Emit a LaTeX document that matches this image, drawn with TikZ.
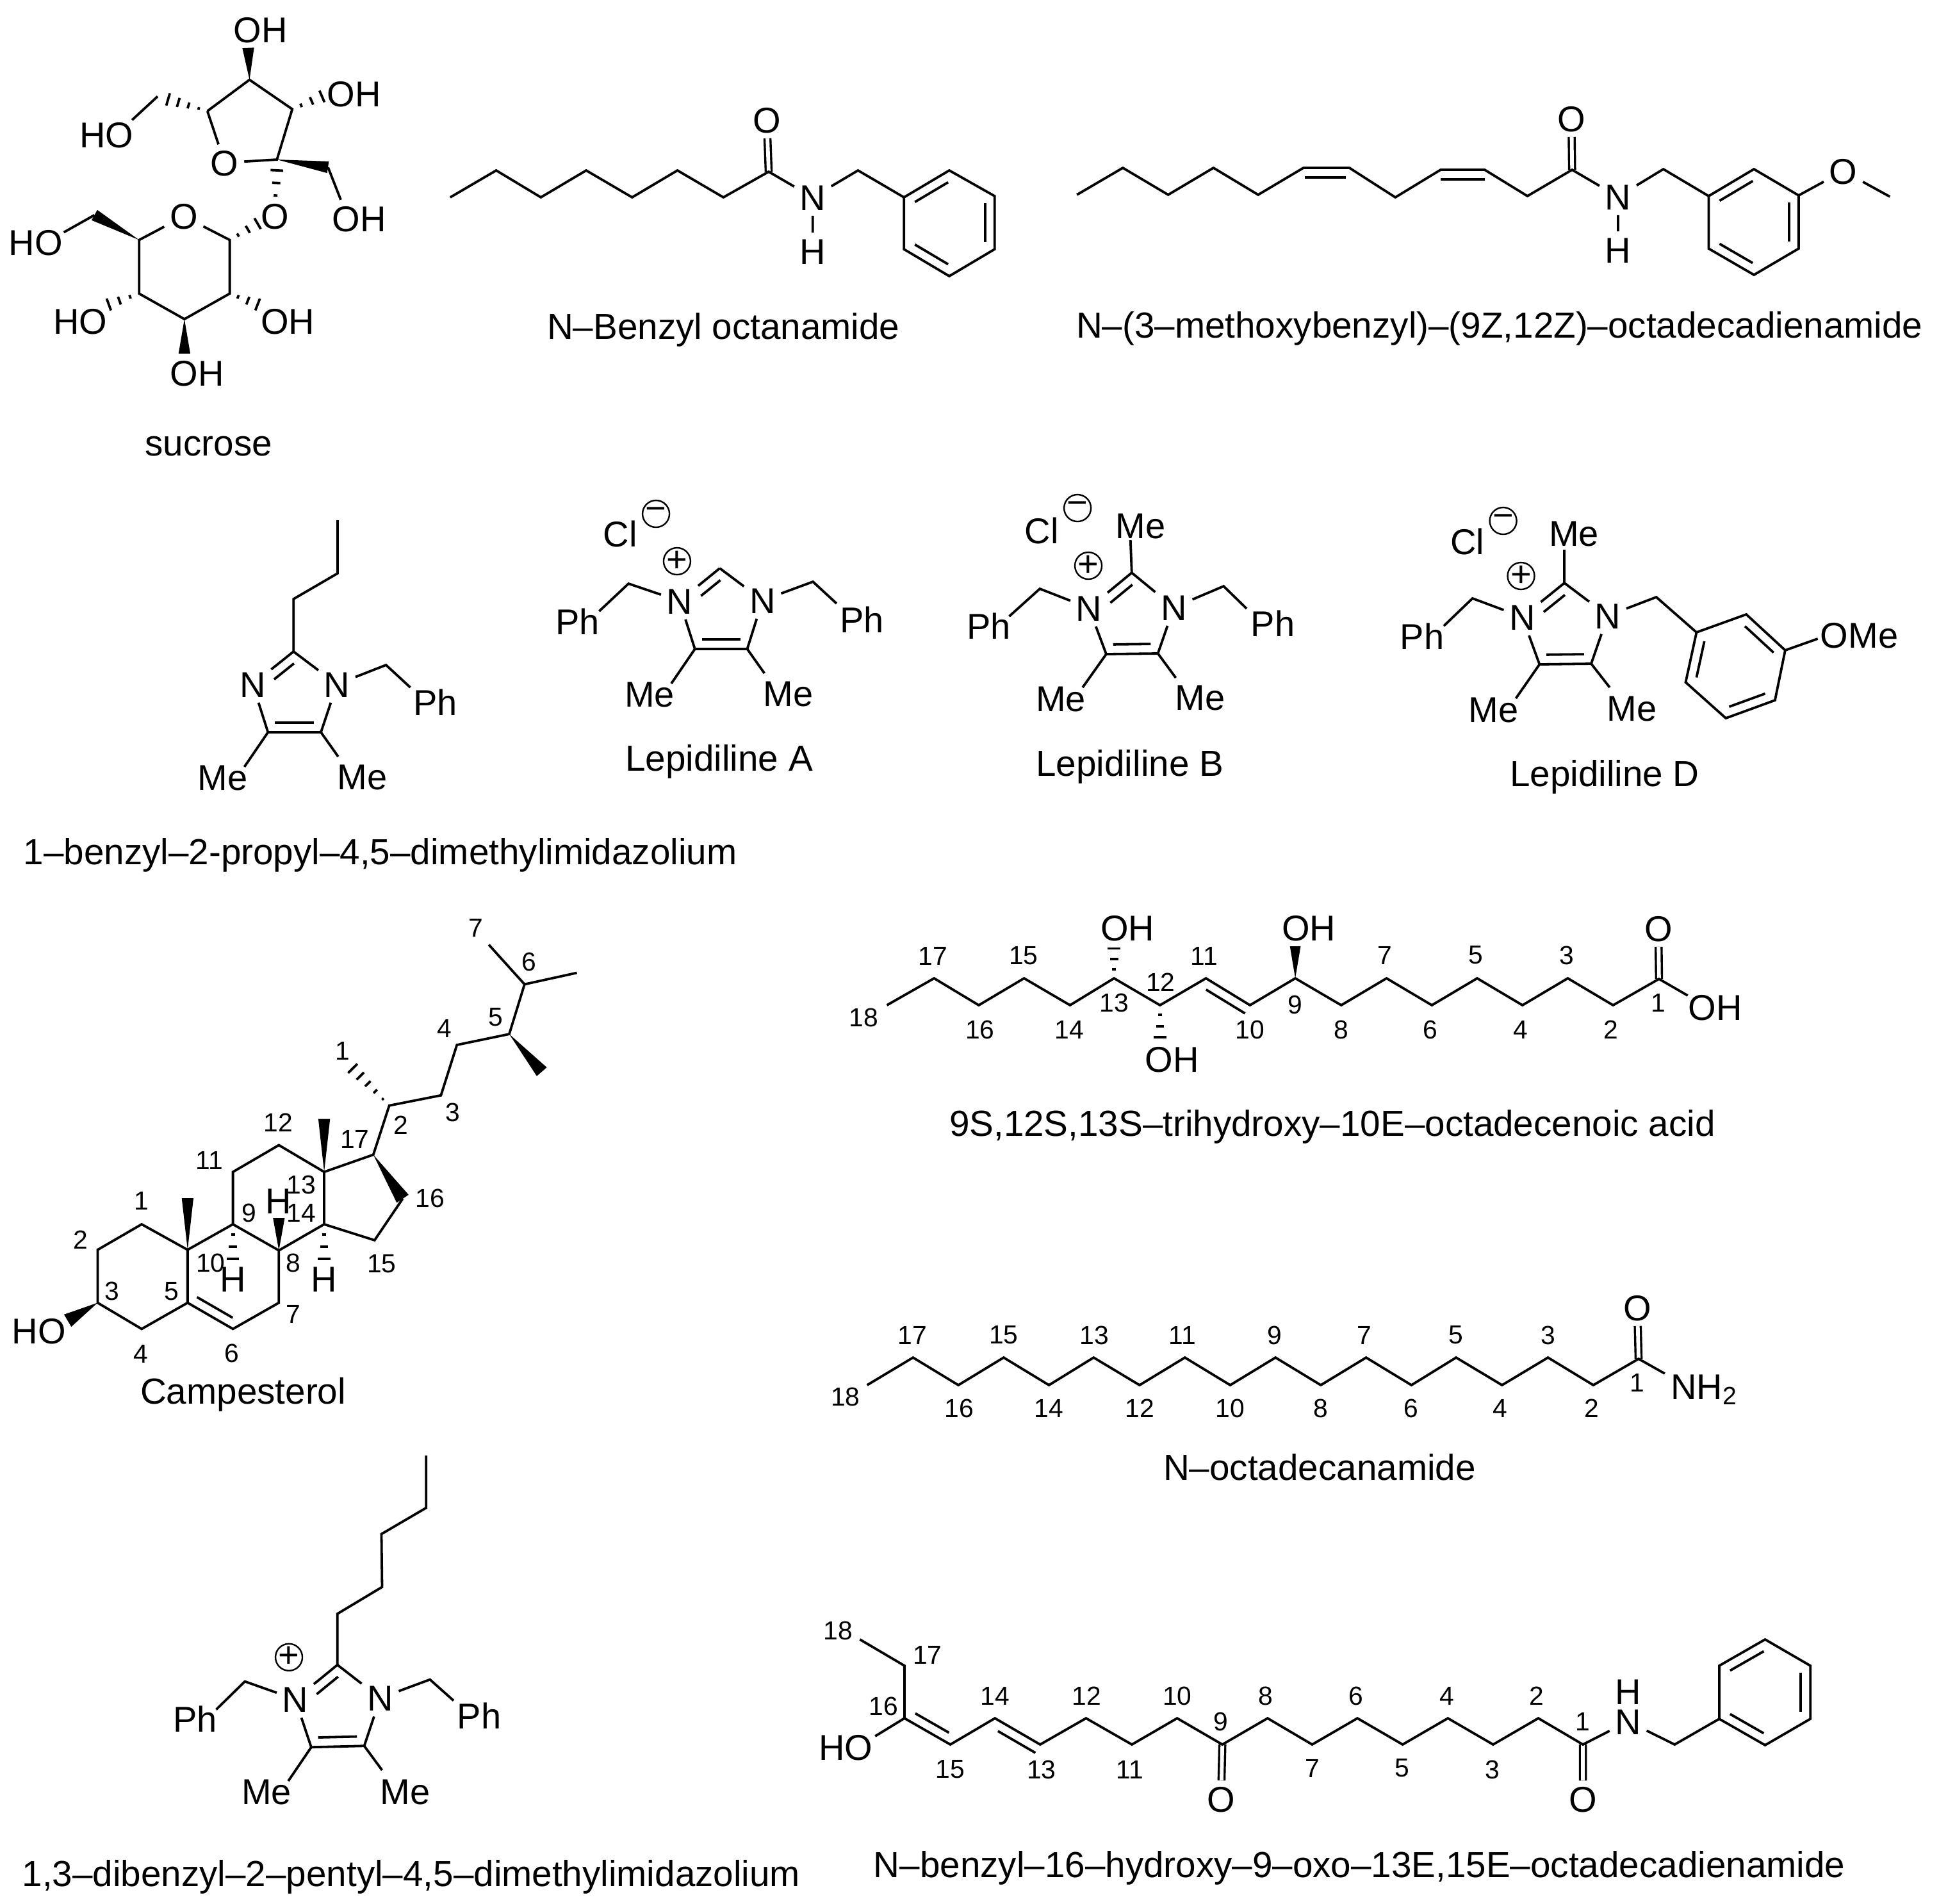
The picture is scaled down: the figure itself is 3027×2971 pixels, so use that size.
\documentclass[tikz,border=0pt]{standalone}
\usepackage{fontspec}
\setmainfont{Liberation Sans}
\usetikzlibrary{calc}

\tikzset{
    bond/.style={line width=0.95pt},
    dbl/.style={line width=0.85pt, double, double distance=1.45pt},
    hash/.style={line width=0.95pt},
    atom/.style={inner sep=2pt, font=\fontsize{14}{16}\selectfont, text height=10pt, text depth=0pt},
    numlabel/.style={inner sep=0pt, font=\fontsize{10.2}{12}\selectfont},
    caption/.style={inner sep=0pt, font=\fontsize{14.15}{16}\selectfont, text height=10.1pt, text depth=0pt},
    charge/.style={draw, circle, line width=0.6pt, minimum size=10.5pt, inner sep=0pt, font=\fontsize{14}{16}\selectfont}
}

\newcommand{\innerbond}[3][]{\draw[bond, shorten <=2.75pt, shorten >=2.75pt, #1] ($(#2)!3.75pt!90:(#3)$) -- ($(#3)!3.75pt!-90:(#2)$);}
\newcommand{\wedgebond}[3][2.3pt]{\fill (#2) -- ($(#3)!#1!90:(#2)$) -- ($(#3)!#1!-90:(#2)$) -- cycle;}
\newcommand{\hashbond}[3][3]{\foreach \hk in {1,...,#1} {
    \pgfmathsetmacro{\hf}{(\hk-0.15)/#1}
    \pgfmathsetmacro{\hw}{2.6*\hf}
    \draw[hash] ($(#2)!\hf!(#3)!\hw pt!90:(#3)$) -- ($(#2)!\hf!(#3)!\hw pt!-90:(#3)$);
}}

\begin{document}
\begin{tikzpicture}[x=0.25pt, y=-0.25pt]
    \useasboundingbox (0, 0) rectangle (3027, 2971);

    \begin{scope}[xscale=0.9962, yscale=0.9962]
    \foreach \n/\x/\y in {sA/391/125, sB/325/174, sC/458/171, sD/434/250, sE/514/262, sF/534/313,
        sG/247/151, sH/207/188, sI/261/155, sJ/507/150, sK/389/75, sL/360/376, sM/218/376, sN/218/460,
        sP/360/460, sQ/289/500, sR/148/337, sT/100/364, sU/168/478, sV/406/478, sW/406/349,
        sX/289/554, sYa/431/323, sYb/434/264}
        \coordinate (\n) at (\x, \y);
    \node[atom] (sO1) at (352, 255) {O};
    \node[atom] (sO2) at (288, 339) {O};
    \node[atom] (sO3) at (431, 339) {O};
    \node[atom] (sOH1) at (408, 47) {OH};
    \node[atom] (sOH2) at (167, 211) {HO};
    \node[atom] (sOH3) at (555, 147) {OH};
    \node[atom] (sOH4) at (563, 343) {OH};
    \node[atom] (sOH5) at (56, 380) {HO};
    \node[atom] (sOH6) at (126, 503) {HO};
    \node[atom] (sOH7) at (451, 503) {OH};
    \node[atom] (sOH8) at (309, 585) {OH};
    \draw[bond] (sB) -- (sA) -- (sC) -- (sD) -- (sO1) -- (sB);
    \draw[bond] (sO2) -- (sL) -- (sP) -- (sQ) -- (sN) -- (sM) -- (sO2);
    \draw[bond] (sG) -- (sH);
    \draw[bond] (sE) -- (sF);
    \draw[bond] (sR) -- (sT);
    \wedgebond{sA}{sK}
    \wedgebond{sD}{sE}
    \wedgebond{sM}{sR}
    \wedgebond{sQ}{sX}
    \hashbond[4]{sB}{sI}
    \hashbond{sC}{sJ}
    \hashbond{sYa}{sYb}
    \hashbond{sL}{sW}
    \hashbond{sN}{sU}
    \hashbond{sP}{sV}
    \node[caption] (sCap) at (327, 694) {sucrose};
    \end{scope}

    \begin{scope}[xshift=0.646pt, xscale=0.9962]
    \foreach \n/\x/\y in {bA/703/308, bB/775/266, bC/845/308, bD/916/266, bE/988/308, bF/1059/266,
        bG/1131/308, bH/1202/268, bI/1342/266, bRa/1414/308, bRb/1485/266, bRc/1556/306,
        bRd/1556/389, bRe/1485/431, bRf/1414/389}
        \coordinate (\n) at (\x, \y);
    \node[atom] (bO) at (1199, 187) {O};
    \node[atom] (bN) at (1271, 308) {N};
    \node[atom] (bNH) at (1271, 392) {H};
    \draw[dbl] (bH) -- (bO);
    \draw[bond] (bA) -- (bB) -- (bC) -- (bD) -- (bE) -- (bF) -- (bG) -- (bH) -- (bN) -- (bI) -- (bRa);
    \draw[bond] (bN) -- (bNH);
    \draw[bond] (bRa) -- (bRb) -- (bRc) -- (bRd) -- (bRe) -- (bRf) -- cycle;
    \innerbond{bRb}{bRa}
    \innerbond{bRf}{bRe}
    \innerbond{bRd}{bRc}
    \node[caption] (bCap) at (1131, 509) {N–Benzyl octanamide};

    \foreach \n/\x/\y in {mA/1685/304, mB/1757/262, mC/1828/304, mD/1899/262, mE/1969/304, mF/2040/262,
        mG/2112/262, mH/2184/308, mI/2255/265, mJ/2324/265, mK/2391/306, mL/2461/265, mM/2604/264,
        mRa/2675/306, mRb/2746/264, mRc/2816/305, mRd/2816/388, mRe/2746/429, mRf/2675/388, mQ/2959/307}
        \coordinate (\n) at (\x, \y);
    \node[atom] (mO) at (2460, 185) {O};
    \node[atom] (mN) at (2533, 307) {N};
    \node[atom] (mNH) at (2533, 390) {H};
    \node[atom] (mO2) at (2886, 267) {O};
    \draw[dbl] (mL) -- (mO);
    \draw[bond] (mA) -- (mB) -- (mC) -- (mD) -- (mE) -- (mF) -- (mG) -- (mH) -- (mI) -- (mJ) -- (mK) -- (mL) -- (mN) -- (mM) -- (mRa);
    \draw[bond] (mN) -- (mNH);
    \draw[bond] (mRa) -- (mRb) -- (mRc) -- (mRd) -- (mRe) -- (mRf) -- cycle;
    \draw[bond] (mRc) -- (mO2) -- (mQ);
    \innerbond[shorten <=1.5pt, shorten >=0.5pt]{mG}{mF}
    \innerbond[shorten <=0pt, shorten >=0pt]{mJ}{mI}
    \innerbond{mRb}{mRa}
    \innerbond{mRf}{mRe}
    \innerbond{mRd}{mRc}
    \node[caption] (mCap) at (2347, 507) {N–(3–methoxybenzyl)–(9Z,12Z)–octadecadienamide};
    \end{scope}

    \begin{scope}[xshift=0.2375pt, xscale=0.9962]
    \foreach \n/\x/\y in {prA/528/812, prB/528/895, prC/459/935, prD/459/1017, prE/419/1143, prF/502/1143,
        prG/604/1038, prH/642/1073, prI/382/1197, prJ/529/1181}
        \coordinate (\n) at (\x, \y);
    \node[atom] (prN1) at (395, 1068) {N};
    \node[atom] (prN2) at (527, 1068) {N};
    \node[atom] (prPh) at (681, 1096) {Ph};
    \node[atom] (prMe1) at (348, 1213) {Me};
    \node[atom] (prMe2) at (567, 1212) {Me};
    \draw[bond] (prA) -- (prB) -- (prC) -- (prD);
    \draw[bond] (prD) -- (prN1) -- (prE) -- (prF) -- (prN2) -- (prD);
    \draw[bond] (prN2) -- (prG) -- (prH);
    \draw[bond] (prE) -- (prI);
    \draw[bond] (prF) -- (prJ);
    \innerbond[shorten >=7.75pt]{prD}{prN1}
    \innerbond{prE}{prF}
    \node[caption] (prCap) at (595, 1329) {1–benzyl–2-propyl–4,5–dimethylimidazolium};

    \foreach \n/\x/\y in {laD/1127/887, laE/1088/1013, laF/1170/1013, laG/984/911, laH/938/954,
        laI/1273/908, laJ/1310/942, laK/1051/1067, laL/1197/1051}
        \coordinate (\n) at (\x, \y);
    \node[atom] (laCl) at (971, 833) {Cl};
    \node[charge] (laM) at (1027, 802) {\makebox[0pt]{−}};
    \node[charge] (laP) at (1060, 876) {\makebox[0pt]{+}};
    \node[atom] (laN1) at (1064, 938) {N};
    \node[atom] (laN2) at (1194, 937) {N};
    \node[atom] (laPh1) at (904, 970) {Ph};
    \node[atom] (laPh2) at (1350, 967) {Ph};
    \node[atom] (laMe1) at (1017, 1083) {Me};
    \node[atom] (laMe2) at (1234, 1082) {Me};
    \draw[bond] (laD) -- (laN1) -- (laE) -- (laF) -- (laN2) -- (laD);
    \draw[bond] (laN1) -- (laG) -- (laH);
    \draw[bond] (laN2) -- (laI) -- (laJ);
    \draw[bond] (laE) -- (laK);
    \draw[bond] (laF) -- (laL);
    \innerbond[shorten >=7.75pt]{laD}{laN1}
    \innerbond{laE}{laF}
    \node[caption] (laCap) at (1126, 1183) {Lepidiline A};
    \end{scope}

    \begin{scope}[xshift=1.378pt, xscale=0.9962]
    \foreach \n/\x/\y in {lbC/1766/843, lbD/1768/894, lbE/1728/1021, lbF/1809/1020, lbG/1624/919, lbH/1576/962,
        lbI/1912/915, lbJ/1948/950, lbK/1691/1073, lbL/1837/1058}
        \coordinate (\n) at (\x, \y);
    \node[atom] (lbCl) at (1627, 828) {Cl};
    \node[charge] (lbM) at (1683, 793) {\makebox[0pt]{−}};
    \node[charge] (lbP) at (1700, 883) {\makebox[0pt]{+}};
    \node[atom] (lbMe0) at (1782, 820) {Me};
    \node[atom] (lbN1) at (1701, 949) {N};
    \node[atom] (lbN2) at (1834, 948) {N};
    \node[atom] (lbPh1) at (1544, 977) {Ph};
    \node[atom] (lbPh2) at (1989, 973) {Ph};
    \node[atom] (lbMe1) at (1657, 1090) {Me};
    \node[atom] (lbMe2) at (1875, 1088) {Me};
    \draw[bond] (lbC) -- (lbD);
    \draw[bond] (lbD) -- (lbN1) -- (lbE) -- (lbF) -- (lbN2) -- (lbD);
    \draw[bond] (lbN1) -- (lbG) -- (lbH);
    \draw[bond] (lbN2) -- (lbI) -- (lbJ);
    \draw[bond] (lbE) -- (lbK);
    \draw[bond] (lbF) -- (lbL);
    \innerbond[shorten >=7.75pt]{lbD}{lbN1}
    \innerbond{lbE}{lbF}
    \node[caption] (lbCap) at (1765, 1191) {Lepidiline B};

    \foreach \n/\x/\y in {ldC/2446/858, ldD/2446/910, ldE/2407/1037, ldF/2488/1036, ldG/2302/934, ldH/2257/977,
        ldI/2590/932, ldK/2370/1090, ldL/2517/1073, ldRa/2653/987, ldRb/2731/959, ldRc/2792/1015,
        ldRd/2776/1093, ldRe/2699/1121, ldRf/2636/1065, ldQ/2843/997}
        \coordinate (\n) at (\x, \y);
    \node[atom] (ldCl) at (2294, 845) {Cl};
    \node[charge] (ldM) at (2350, 813) {\makebox[0pt]{−}};
    \node[charge] (ldP) at (2378, 899) {\makebox[0pt]{+}};
    \node[atom] (ldMe0) at (2461, 832) {Me};
    \node[atom] (ldN1) at (2380, 963) {N};
    \node[atom] (ldN2) at (2514, 961) {N};
    \node[atom] (ldPh) at (2223, 993) {Ph};
    \node[atom] (ldMe1) at (2335, 1107) {Me};
    \node[atom] (ldMe2) at (2552, 1105) {Me};
    \node[atom] (ldOMe) at (2908, 991) {OMe};
    \draw[bond] (ldC) -- (ldD);
    \draw[bond] (ldD) -- (ldN1) -- (ldE) -- (ldF) -- (ldN2) -- (ldD);
    \draw[bond] (ldN1) -- (ldG) -- (ldH);
    \draw[bond] (ldN2) -- (ldI) -- (ldRa);
    \draw[bond] (ldE) -- (ldK);
    \draw[bond] (ldF) -- (ldL);
    \draw[bond] (ldRa) -- (ldRb) -- (ldRc) -- (ldRd) -- (ldRe) -- (ldRf) -- cycle;
    \draw[bond] (ldRc) -- (ldQ);
    \innerbond[shorten >=7.75pt]{ldD}{ldN1}
    \innerbond{ldE}{ldF}
    \innerbond{ldRc}{ldRb}
    \innerbond{ldRe}{ldRd}
    \innerbond{ldRa}{ldRf}
    \node[caption] (ldCap) at (2509, 1207) {Lepidiline D};
    \end{scope}

    \begin{scope}[yshift=-1.311pt, xscale=0.9962, yscale=0.9962]
    \foreach \n/\x/\y in {caC1/222/1913, caC2/153/1953, caC3/153/2036, caC4/222/2077, caC5/294/2036,
        caC6/365/2077, caC7/437/2036, caC8/437/1954, caC9/365/1913, caC10/294/1953, caC11/365/1831,
        caC12/437/1789, caC13/508/1831, caC14/508/1913, caC15/587/1938, caC16/631/1873, caC17/585/1804,
        caS2/610/1727, caS3/691/1711, caS4/716/1632, caS5/798/1615, caS6/822/1537, caS7/766/1475,
        caS8/904/1519, caS9/849/1674, caS1/551/1667, caW1/508/1748, caW2/294/1872, caW3/437/1903,
        caW4/106/2064, caHa/365/1970, caHb/508/1970}
        \coordinate (\n) at (\x, \y);
    \draw[bond] (caC1) -- (caC2) -- (caC3) -- (caC4) -- (caC5) -- (caC10) -- cycle;
    \draw[bond] (caC5) -- (caC6) -- (caC7) -- (caC8) -- (caC9) -- (caC10);
    \draw[bond] (caC9) -- (caC11) -- (caC12) -- (caC13) -- (caC14) -- (caC8);
    \draw[bond] (caC14) -- (caC15) -- (caC16);
    \draw[bond] (caC13) -- (caC17) -- (caS2) -- (caS3) -- (caS4) -- (caS5) -- (caS6) -- (caS7);
    \draw[bond] (caS6) -- (caS8);
    \innerbond[shorten <=2.1pt, shorten >=2.25pt]{caC5}{caC6}
    \wedgebond{caC13}{caW1}
    \wedgebond{caC10}{caW2}
    \wedgebond{caC8}{caW3}
    \wedgebond[2.8pt]{caC17}{caC16}
    \wedgebond[2.6pt]{caS5}{caS9}
    \wedgebond[2.8pt]{caC3}{caW4}
    \hashbond[5]{caS2}{caS1}
    \hashbond{caC9}{caHa}
    \hashbond{caC14}{caHb}
    \node[atom] (caHO) at (61, 2080) {HO};
    \node[atom] (caH1) at (436, 1876) {H};
    \node[atom] (caH2) at (365, 1999) {H};
    \node[atom] (caH3) at (508, 1999) {H};
    \foreach \n/\x/\y/\t in {caL1/222/1876/1, caL2/126/1937/2, caL3/176/2018/3, caL4/221/2116/4, caL5/269/2018/5,
        caL6/363/2115/6, caL7/460/2054/7, caL8/460/1974/8, caL9/390/1895/9, caL10/330/1974/10, caL11/328/1813/11,
        caL12/436/1754/12, caL13/472/1851/13, caL14/472/1895/14, caL15/598/1975/15, caL16/674/1872/16,
        caL17/556/1780/17, caT1/537/1641/1, caT2/628/1758/2, caT3/710/1738/3, caT4/696/1606/4, caT5/777/1588/5,
        caT6/829/1502/6, caT7/746/1449/7}
        \node[numlabel] (\n) at (\x, \y) {\t};
    \node[caption] (caCap) at (381, 2174) {Campesterol};
    \end{scope}

    \begin{scope}[xshift=1.197pt, xscale=0.9962]
    \foreach \n/\x in {2/2523, 4/2381, 6/2239, 8/2097, 10/1954, 12/1813, 14/1672, 16/1529}
        \coordinate (tr\n) at (\x, 1569);
    \foreach \n/\x in {3/2452, 5/2310, 7/2168, 9/2025, 11/1885, 13/1741, 15/1600, 17/1459}
        \coordinate (tr\n) at (\x, 1527);
    \coordinate (tr1) at (2595, 1528);
    \coordinate (tr18) at (1385, 1569);
    \coordinate (trW) at (2025, 1477);
    \coordinate (trHa) at (1741, 1478);
    \coordinate (trHb) at (1813, 1622);
    \coordinate (trE) at (2640, 1554);
    \node[atom] (trO) at (2594, 1449) {O};
    \node[atom] (trOH1) at (2683, 1572) {OH};
    \node[atom] (trOH2) at (1762, 1448) {OH};
    \node[atom] (trOH3) at (2046, 1448) {OH};
    \node[atom] (trOH4) at (1832, 1653) {OH};
    \draw[dbl] (tr1) -- (trO);
    \draw[bond] (tr18) \foreach \i in {17,...,1} { -- (tr\i) } -- (trE);
    \innerbond[shorten <=0pt, shorten >=2.35pt]{tr10}{tr11}
    \wedgebond[2.1pt]{tr9}{trW}
    \hashbond{tr13}{trHa}
    \hashbond{tr12}{trHb}
    \foreach \n/\x/\y/\t in {trL17/1457/1492/17, trL15/1599/1492/15, trL11/1882/1492/11, trL7/2165/1491/7,
        trL5/2308/1491/5, trL3/2450/1491/3, trL12/1814/1533/12, trL13/1741/1565/13, trL9/2025/1568/9,
        trL1/2594/1565/1, trL18/1349/1588/18, trL16/1531/1607/16, trL14/1671/1607/14, trL10/1954/1607/10,
        trL8/2097/1607/8, trL6/2237/1607/6, trL4/2378/1607/4, trL2/2520/1607/2}
        \node[numlabel] (\n) at (\x, \y) {\t};
    \node[caption] (trCap) at (2083, 1753) {9S,12S,13S–trihydroxy–10E–octadecenoic acid};

    \foreach \n/\x in {2/2492, 4/2349, 6/2207, 8/2065, 10/1923, 12/1781, 14/1639, 16/1497, 18/1354}
        \coordinate (oc\n) at (\x, 2162);
    \foreach \n/\x in {3/2421, 5/2277, 7/2136, 9/1994, 11/1852, 13/1709, 15/1568, 17/1426}
        \coordinate (oc\n) at (\x, 2119);
    \coordinate (oc1) at (2563, 2121);
    \coordinate (ocE) at (2604, 2144);
    \node[atom] (ocO) at (2561, 2041) {O};
    \node[atom] (ocNH) at (2666, 2164) {NH\textsubscript{2}};
    \draw[dbl] (oc1) -- (ocO);
    \draw[bond] (oc18) \foreach \i in {17,...,1} { -- (oc\i) } -- (ocE);
    \foreach \n/\x/\y/\t in {ocL17/1425/2084/17, ocL15/1568/2084/15, ocL13/1710/2084/13, ocL11/1848/2084/11,
        ocL9/1993/2084/9, ocL7/2133/2084/7, ocL5/2277/2084/5, ocL3/2421/2084/3, ocL16/1498/2198/16,
        ocL14/1639/2198/14, ocL12/1781/2198/12, ocL10/1923/2198/10, ocL8/2065/2198/8, ocL6/2206/2198/6,
        ocL4/2346/2198/4, ocL2/2489/2198/2, ocL18/1320/2180/18, ocL1/2561/2158/1}
        \node[numlabel] (\n) at (\x, \y) {\t};
    \node[caption] (ocCap) at (2063, 2290) {N–octadecanamide};
    \end{scope}

    \begin{scope}[xshift=0.19pt, yshift=-2.147pt, xscale=0.9962, yscale=0.9962]
    \foreach \n/\x/\y in {peA/667/2272, peB/667/2354, peC/597/2395, peD/598/2478, peE/528/2520, peF/528/2600,
        peG/487/2729, peH/570/2727, peI/383/2626, peJ/338/2670, peK/673/2623, peL/710/2656, peM/451/2782,
        peQ/598/2765}
        \coordinate (\n) at (\x, \y);
    \node[charge] (peP) at (452, 2588) {\makebox[0pt]{+}};
    \node[atom] (peN1) at (462, 2654) {N};
    \node[atom] (peN2) at (595, 2652) {N};
    \node[atom] (pePh1) at (305, 2685) {Ph};
    \node[atom] (pePh2) at (750, 2680) {Ph};
    \node[atom] (peMe1) at (417, 2798) {Me};
    \node[atom] (peMe2) at (634, 2798) {Me};
    \draw[bond] (peA) -- (peB) -- (peC) -- (peD) -- (peE) -- (peF);
    \draw[bond] (peF) -- (peN1) -- (peG) -- (peH) -- (peN2) -- (peF);
    \draw[bond] (peN1) -- (peI) -- (peJ);
    \draw[bond] (peN2) -- (peK) -- (peL);
    \draw[bond] (peG) -- (peM);
    \draw[bond] (peH) -- (peQ);
    \innerbond[shorten >=7.75pt]{peF}{peN1}
    \innerbond{peG}{peH}
    \node[caption] (peCap) at (643.7, 2927) {1,3–dibenzyl–2–pentyl–4,5–dimethylimidazolium};
    \end{scope}

    \begin{scope}[xshift=1.197pt, xscale=0.9945]
    \foreach \n/\x in {15/1487, 13/1628, 11/1772, 9/1914, 7/2055, 5/2197, 3/2339, 1/2480}
        \coordinate (bz\n) at (\x, 2723);
    \foreach \n/\x in {16/1415, 14/1557, 12/1700, 10/1843, 8/1985, 6/2126, 4/2268, 2/2410}
        \coordinate (bz\n) at (\x, 2682);
    \foreach \n/\x/\y in {bz17/1415/2600, bz18/1345/2559, bzE/1369/2710, bzF/2582/2698, bzG/2624/2723, bzH/2522/2699,
        bzRa/2694/2683, bzRb/2694/2600, bzRc/2766/2559, bzRd/2837/2600, bzRe/2837/2683, bzRf/2766/2724}
        \coordinate (\n) at (\x, \y);
    \node[atom] (bzO1) at (1912, 2808) {O};
    \node[atom] (bzO2) at (2480, 2808) {O};
    \node[atom] (bzHO) at (1323, 2727) {HO};
    \node[atom] (bzN) at (2551, 2687) {N};
    \node[atom] (bzNH) at (2551, 2640) {H};
    \draw[dbl] (bz9) -- (bzO1);
    \draw[dbl] (bz1) -- (bzO2);
    \draw[bond] (bz18) \foreach \i in {17,...,1} { -- (bz\i) } -- (bzN);
    \draw[bond] (bz16) -- (bzE);
    \draw[bond] (bzN) -- (bzG) -- (bzRa);
    \draw[bond] (bzRa) -- (bzRb) -- (bzRc) -- (bzRd) -- (bzRe) -- (bzRf) -- cycle;
    \innerbond{bz16}{bz15}
    \innerbond[shorten <=0pt, shorten >=3.5pt]{bz13}{bz14}
    \innerbond{bzRc}{bzRb}
    \innerbond{bzRa}{bzRf}
    \innerbond{bzRe}{bzRd}
    \foreach \n/\x/\y/\t in {bzL18/1311/2545/18, bzL17/1451/2583/17, bzL16/1382/2663/16, bzL14/1557/2647/14,
        bzL12/1701/2647/12, bzL10/1843/2647/10, bzL8/1982/2647/8, bzL6/2124/2647/6, bzL4/2266/2647/4, bzL2/2407/2647/2,
        bzL1/2480/2687/1, bzL9/1912/2687/9, bzL15/1487/2762/15, bzL13/1630/2762/13, bzL11/1769/2762/11,
        bzL7/2055/2760/7, bzL5/2196/2760/5, bzL3/2338/2762/3}
        \node[numlabel] (\n) at (\x, \y) {\t};
    \node[caption] (bzCap) at (2129, 2910) {N–benzyl–16–hydroxy–9–oxo–13E,15E–octadecadienamide};
    \end{scope}
\end{tikzpicture}
\end{document}
